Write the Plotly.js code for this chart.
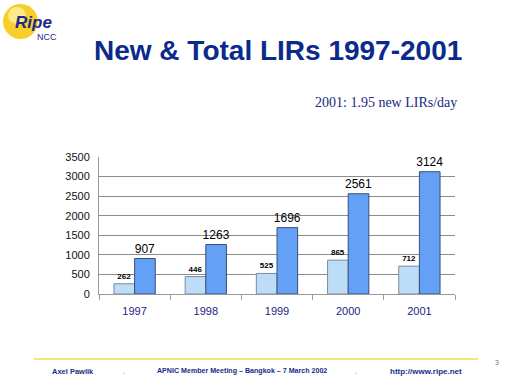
<!DOCTYPE html>
<html><head><meta charset="utf-8">
<script src="https://cdn.plot.ly/plotly-3.0.1.min.js"></script>
<style>html,body{margin:0;padding:0;background:#fff;}#chart{width:512px;height:384px;}</style>
</head><body><div id="chart"></div>
<script>
const years = ['1997','1998','1999','2000','2001'];
const newLIRs = [262, 446, 525, 865, 712];
const totalLIRs = [907, 1263, 1696, 2561, 3124];
const yTicks = [0, 500, 1000, 1500, 2000, 2500, 3000, 3500];

const traces = [
  {type:'bar', x: years, y: newLIRs, name:'New',
   marker:{color:'#bcdcf8', line:{color:'#7f8aa0', width:1}},
   text: newLIRs.map(String), textposition:'outside', cliponaxis:false, constraintext:'none',
   textfont:{family:'Arial, Liberation Sans', size:8, color:'#000', weight:'bold'}},
  {type:'bar', x: years, y: totalLIRs, name:'Total',
   marker:{color:'#64a0f6', line:{color:'#36507a', width:1}},
   text: totalLIRs.map(String), textposition:'outside', cliponaxis:false, constraintext:'none',
   textfont:{family:'Arial, Liberation Sans', size:12, color:'#000'}}
];
const P = (px) => (px-99)/356;      // paper x from pixel
const Q = (py) => (384-90-py)/137;  // paper y from pixel
const layout = {
  width:512, height:384, showlegend:false,
  paper_bgcolor:'#fff', plot_bgcolor:'#fff',
  margin:{l:99, r:57, t:157, b:90},
  barmode:'group', bargap:0.42, bargroupgap:0,
  font:{family:'Arial, Liberation Sans, sans-serif'},
  xaxis:{type:'category', showline:true, linecolor:'#9a9a9a', linewidth:1,
    ticks:'outside', ticklen:5, tickcolor:'#9a9a9a', tickson:'boundaries',
    ticklabelstandoff:7,
    tickfont:{size:11, color:'#1a237e'}, showgrid:false, zeroline:false},
  yaxis:{range:[0,3500], tickvals:yTicks, ticktext:yTicks.map(String),
    showline:true, linecolor:'#9a9a9a', linewidth:1,
    showgrid:true, gridcolor:'#8c8c8c', gridwidth:1, zeroline:false,
    tickfont:{size:11, color:'#111'}, ticks:'', ticklabelstandoff:6},
  shapes:[
    {type:'circle', xref:'paper', yref:'paper', layer:'below',
     x0:P(3), x1:P(38), y0:Q(39), y1:Q(4), fillcolor:'#f7cf2a', line:{width:0}},
    {type:'circle', xref:'paper', yref:'paper', layer:'below',
     x0:P(8), x1:P(26), y0:Q(24), y1:Q(7), fillcolor:'#fbe98a', line:{width:0}},
    {type:'line', xref:'paper', yref:'paper',
     x0:P(34), x1:P(478), y0:Q(359), y1:Q(359), line:{color:'#f0c800', width:1}}
  ],
  annotations:[
    {text:'New & Total LIRs 1997-2001', xref:'paper', yref:'paper', showarrow:false,
     x:P(278), y:Q(50), xanchor:'center', yanchor:'middle',
     font:{family:'Arial, Liberation Sans', size:28, color:'#0a2a8c', weight:'bold'}},
    {text:'2001: 1.95 new LIRs/day', xref:'paper', yref:'paper', showarrow:false,
     x:P(459), y:Q(102), xanchor:'right', yanchor:'middle',
     font:{family:'Liberation Serif, Times New Roman, serif', size:14, color:'#1a2a7c'}},
    {text:'<i><b>Ripe</b></i>', xref:'paper', yref:'paper', showarrow:false,
     x:P(13), y:Q(22), xanchor:'left', yanchor:'middle',
     font:{family:'Arial, Liberation Sans', size:17, color:'#1a2a8c'}},
    {text:'NCC', xref:'paper', yref:'paper', showarrow:false,
     x:P(35), y:Q(37), xanchor:'left', yanchor:'middle',
     font:{family:'Arial, Liberation Sans', size:9, color:'#1a2a8c'}},
    {text:'<b>Axel Pawlik</b>', xref:'paper', yref:'paper', showarrow:false,
     x:P(50), y:Q(371), xanchor:'left', yanchor:'middle',
     font:{family:'Arial, Liberation Sans', size:7.5, color:'#1a2a8c'}},
    {text:'<b>.</b>', xref:'paper', yref:'paper', showarrow:false,
     x:P(124), y:Q(371), xanchor:'center', yanchor:'middle',
     font:{family:'Arial, Liberation Sans', size:8, color:'#e8c000'}},
    {text:'<b>APNIC Member Meeting – Bangkok – 7 March 2002</b>', xref:'paper', yref:'paper', showarrow:false,
     x:P(155), y:Q(371), xanchor:'left', yanchor:'middle',
     font:{family:'Arial, Liberation Sans', size:7.1, color:'#1a2a8c'}},
    {text:'<b>.</b>', xref:'paper', yref:'paper', showarrow:false,
     x:P(356), y:Q(371), xanchor:'center', yanchor:'middle',
     font:{family:'Arial, Liberation Sans', size:8, color:'#e8c000'}},
    {text:'<b>http://www.ripe.net</b>', xref:'paper', yref:'paper', showarrow:false,
     x:P(388), y:Q(371), xanchor:'left', yanchor:'middle',
     font:{family:'Arial, Liberation Sans', size:8, color:'#1a2a8c'}},
    {text:'3', xref:'paper', yref:'paper', showarrow:false,
     x:P(497), y:Q(362), xanchor:'center', yanchor:'middle',
     font:{family:'Arial, Liberation Sans', size:7, color:'#777'}}
  ]
};
Plotly.newPlot('chart', traces, layout, {staticPlot:true, displayModeBar:false});
</script></body></html>
